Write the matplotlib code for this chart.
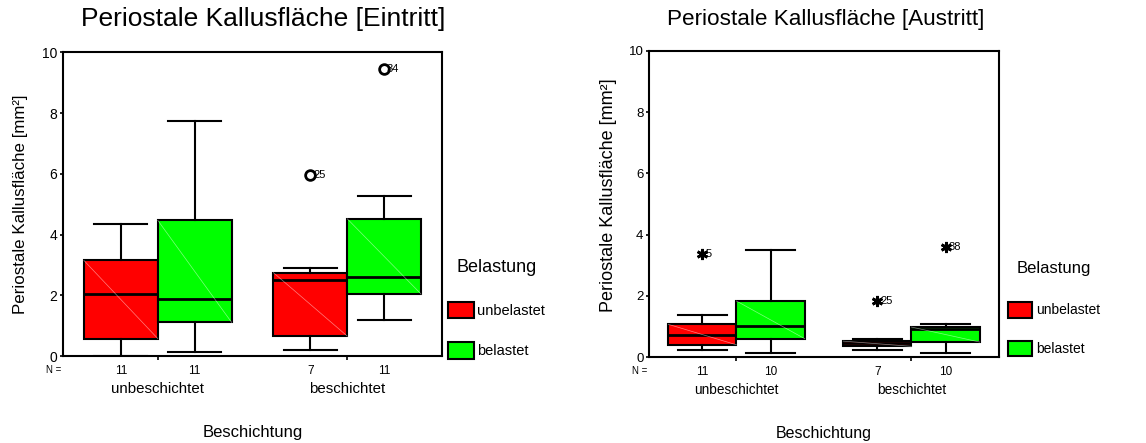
"""Periostale Kallusfläche: grouped boxplots (Eintritt / Austritt), SPSS style."""

import matplotlib
matplotlib.use("Agg")
import matplotlib.pyplot as plt
from matplotlib.patches import Patch

plt.rcParams['font.family'] = ['Liberation Sans', 'DejaVu Sans']

# ── Data ────────────────────────────────────────────────────────────────
GROUPS = ["unbeschichtet", "beschichtet"]
LOADS = ["unbelastet", "belastet"]
LOAD_COLORS = ["#ff0000", "#00ff00"]

# Eintritt: order = [unbesch/unbel, unbesch/bel, besch/unbel, besch/bel]
EIN_WHISLO = [0.00, 0.14, 0.20, 1.18]
EIN_Q1     = [0.58, 1.11, 0.66, 2.04]
EIN_MED    = [2.06, 1.89, 2.52, 2.61]
EIN_Q3     = [3.15, 4.47, 2.75, 4.52]
EIN_WHISHI = [4.34, 7.75, 2.90, 5.26]
EIN_N      = [11, 11, 7, 11]
EIN_OUT    = [[], [], [5.97], [9.45]]
EIN_OUT_ID = [[], [], ["25"], ["34"]]

# Austritt
AUS_WHISLO = [0.22, 0.14, 0.22, 0.14]
AUS_Q1     = [0.40, 0.60, 0.35, 0.49]
AUS_MED    = [0.71, 1.03, 0.47, 0.93]
AUS_Q3     = [1.07, 1.83, 0.52, 0.98]
AUS_WHISHI = [1.38, 3.49, 0.60, 1.09]
AUS_N      = [11, 10, 7, 10]
AUS_OUT    = [[3.38], [], [1.82], [3.60]]
AUS_OUT_ID = [["5"], [], ["25"], ["38"]]

BOX_W = 0.39


def draw_panel(ax, whislo, q1, med, q3, whishi, outs, out_ids, marker, sizes):
    positions = []
    for g in range(len(GROUPS)):
        for k in range(len(LOADS)):
            positions.append(g + 1 + (k - 0.5) * BOX_W)
    stats = []
    for i in range(len(positions)):
        stats.append(dict(whislo=whislo[i], q1=q1[i], med=med[i], q3=q3[i],
                          whishi=whishi[i], fliers=[]))
    bp = ax.bxp(stats, positions=positions, widths=BOX_W, capwidths=0.28,
                patch_artist=True, showfliers=False,
                boxprops=dict(linewidth=1.5, edgecolor='black'),
                medianprops=dict(color='black', linewidth=2),
                whiskerprops=dict(color='black', linewidth=1.5),
                capprops=dict(color='black', linewidth=1.5))
    for i, box in enumerate(bp['boxes']):
        box.set_facecolor(LOAD_COLORS[i % len(LOADS)])
        # faint diagonal seen on the SPSS boxes
        x0, x1 = positions[i] - BOX_W / 2, positions[i] + BOX_W / 2
        ax.plot([x0, x1], [q3[i], q1[i]], color='white', lw=0.5, alpha=0.5,
                zorder=box.get_zorder() + 0.1)
    for i, vals in enumerate(outs):
        for v, lab in zip(vals, out_ids[i]):
            if marker == 'o':
                ax.plot(positions[i], v, marker='o', ms=7, mfc='none',
                        mec='black', mew=2, zorder=5)
            else:
                ax.plot(positions[i], v, marker=(6, 2, 0), ms=8,
                        color='black', mew=2, zorder=5)
            ax.annotate(lab, (positions[i], v), xytext=(2, 0),
                        textcoords='offset points', va='center', ha='left',
                        fontsize=8)

    ax.set_xlim(0.5, len(GROUPS) + 0.5)
    ax.set_ylim(0, 10)
    ax.set_yticks([0, 2, 4, 6, 8, 10])
    ax.set_xticks(range(1, len(GROUPS) + 1))
    ax.set_xticklabels([])
    ax.tick_params(axis='y', labelsize=sizes['tick'], length=2, width=1.2, pad=2)
    ax.tick_params(axis='x', length=3, width=1.2)
    for s in ax.spines.values():
        s.set_linewidth(1.5)
    return positions


fig = plt.figure(figsize=(11.46, 4.43), dpi=100)

panels = [
    dict(rect=[0.055, 0.196, 0.3307, 0.686], title="Periostale Kallusfläche [Eintritt]",
         data=(EIN_WHISLO, EIN_Q1, EIN_MED, EIN_Q3, EIN_WHISHI, EIN_OUT, EIN_OUT_ID),
         n=EIN_N, marker='o', title_x=263, leg_x=448, ylab_pos=(-0.092, 0.5),
         sizes=dict(title=19, ylab=12.2, xlab=12, cat=10.8, n=8.5, tick=10, leg_t=13, leg=10.5)),
    dict(rect=[0.5663, 0.194, 0.3054, 0.691], title="Periostale Kallusfläche [Austritt]",
         data=(AUS_WHISLO, AUS_Q1, AUS_MED, AUS_Q3, AUS_WHISHI, AUS_OUT, AUS_OUT_ID),
         n=AUS_N, marker='*', title_x=826, leg_x=1008, ylab_pos=(-0.092, 0.53),
         sizes=dict(title=16.2, ylab=13, xlab=11.5, cat=9.8, n=8.5, tick=9.5, leg_t=12, leg=10)),
]

W, H = 1146, 443
for p in panels:
    ax = fig.add_axes(p['rect'])
    sz = p['sizes']
    pos = draw_panel(ax, *p['data'], marker=p['marker'], sizes=sz)
    trans = ax.get_xaxis_transform()
    for x, n in zip(pos, p['n']):
        ax.text(x, -0.028, str(n), transform=trans, ha='center', va='top', fontsize=sz['n'])
    ax.text(-0.005, -0.028, "N =", transform=ax.transAxes, ha='right', va='top', fontsize=7)
    for g, name in enumerate(GROUPS):
        ax.text(g + 1, -0.085, name, transform=trans, ha='center', va='top', fontsize=sz['cat'])
    ax.set_xlabel("Beschichtung", fontsize=sz['xlab'], labelpad=43)
    ax.set_ylabel("Periostale Kallusfläche [mm²]", fontsize=sz['ylab'])
    ax.yaxis.set_label_coords(*p['ylab_pos'])
    fig.text(p['title_x'] / W, 1 - 19 / H, p['title'], ha='center', va='center',
             fontsize=sz['title'])
    fig.text((p['leg_x'] + 9) / W, 1 - 268 / H, "Belastung", ha='left', va='center',
             fontsize=sz['leg_t'])
    handles = [Patch(facecolor=c, edgecolor='black', linewidth=1.5) for c in LOAD_COLORS]
    fig.legend(handles, LOADS, loc='upper left',
               bbox_to_anchor=(p['leg_x'] / W, 1 - 302 / H), frameon=False,
               fontsize=sz['leg'], handlelength=1.75, handleheight=1.35,
               handletextpad=0.25, labelspacing=1.65,
               borderpad=0, borderaxespad=0)

fig.savefig("out.png", dpi=100)
